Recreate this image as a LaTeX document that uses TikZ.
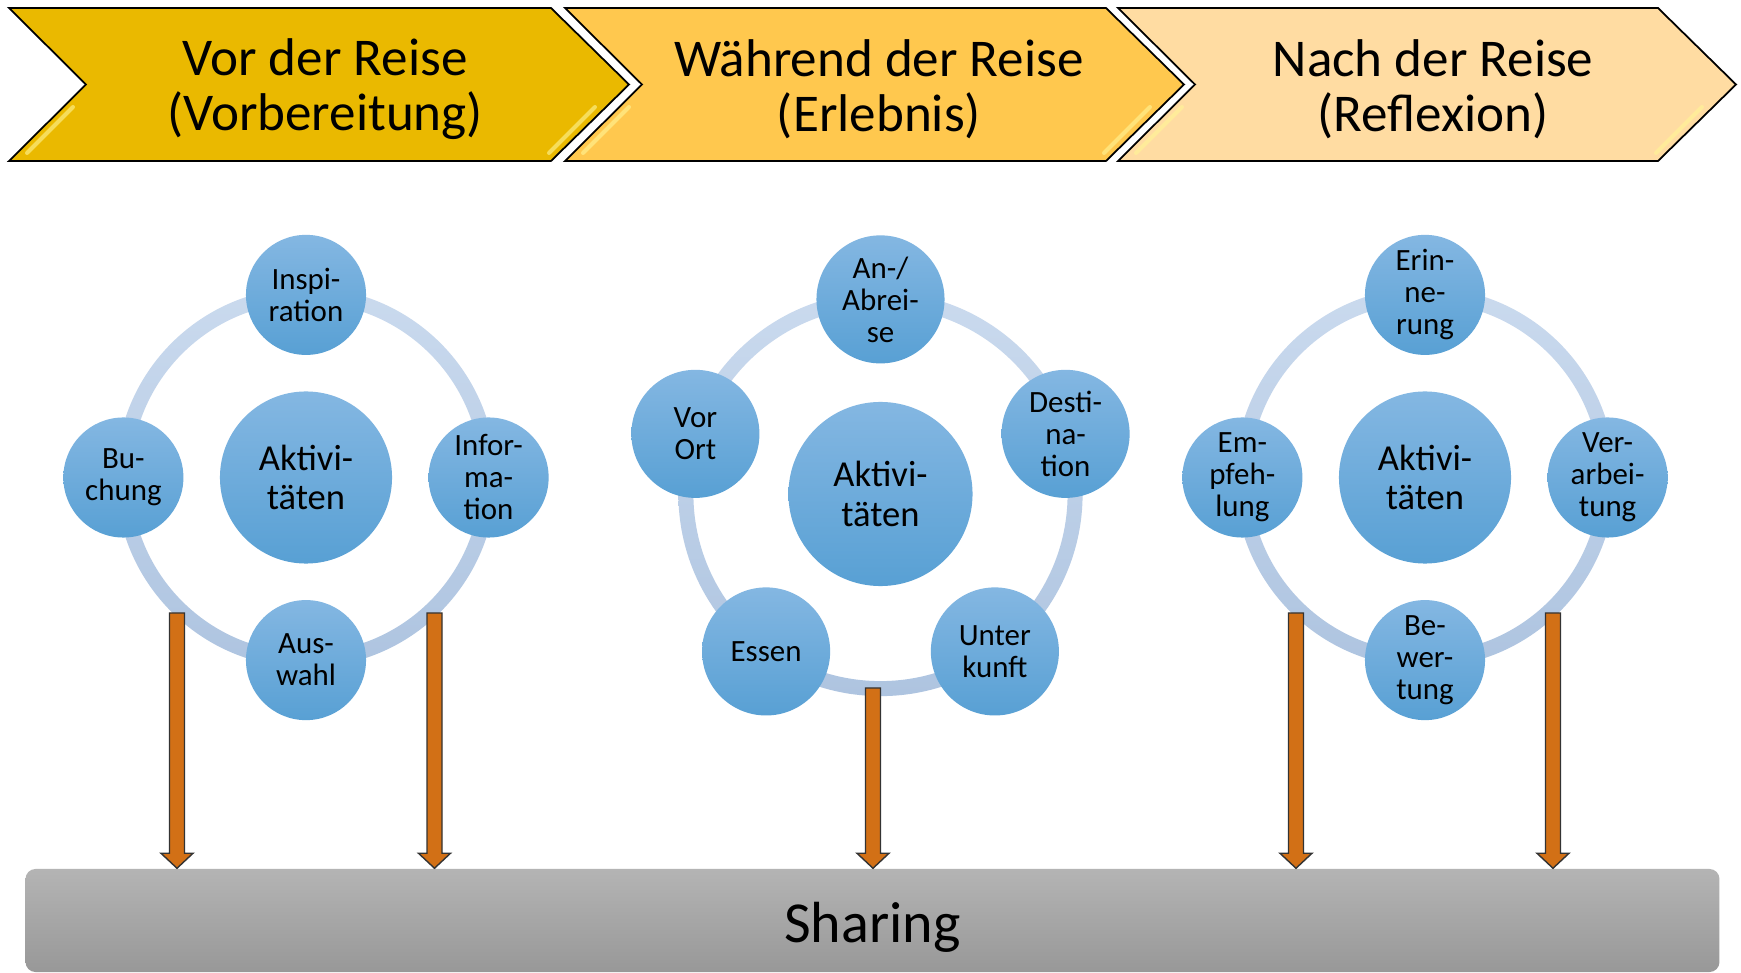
\documentclass[tikz,border=0pt]{standalone}
\usepackage{fontspec}
\setmainfont{Carlito}
\usepackage{tikz}
\usetikzlibrary{calc}

\definecolor{phaseA}{RGB}{234,185,0}
\definecolor{phaseB}{RGB}{255,200,78}
\definecolor{phaseC}{RGB}{255,220,162}
\definecolor{glossy}{RGB}{255,245,150}
\definecolor{bubbleTop}{RGB}{132,183,226}
\definecolor{bubbleBot}{RGB}{88,160,212}
\definecolor{ringTop}{RGB}{202,218,238}
\definecolor{ringBot}{RGB}{174,196,224}
\definecolor{arrowOrange}{RGB}{210,112,22}
\definecolor{shareTop}{RGB}{180,180,180}
\definecolor{shareBot}{RGB}{152,152,152}

\newcommand{\chevron}[3]{%
  \draw[phase, fill=#3] (#1,8) -- (#2,8) -- ++(78,76.5) -- ++(-78,76.5) -- (#1,161) -- ++(77,-76.5) -- cycle;
  \draw[gloss] (#2-2,153) -- ++(46,-46);
  \draw[gloss] (#1+18,153) -- ++(46,-46);}

\begin{document}
\begin{tikzpicture}[x=0.01cm, y=-0.01cm,
    phase/.style={draw=black, line width=0.5pt, line join=miter},
    gloss/.style={draw=glossy, line width=0.04cm, opacity=0.6, line cap=round},
    phasetext/.style={align=center, font=\fontsize{15.1}{15.6}\selectfont},
    bubble/.style={circle, inner sep=0pt, align=center, top color=bubbleTop, bottom color=bubbleBot},
    hub/.style={bubble, minimum size=1.72cm, font=\fontsize{10.4}{11.2}\selectfont},
    sat/.style={bubble, minimum size=1.2cm, font=\fontsize{8.8}{9.1}\selectfont},
    hub2/.style={hub, minimum size=1.84cm},
    sat2/.style={sat, minimum size=1.28cm},
    ring/.style={top color=ringTop, bottom color=ringBot, even odd rule},
    sharebar/.style={rounded corners=0.1cm, top color=shareTop, bottom color=shareBot, minimum width=16.93cm, minimum height=1.03cm, font=\fontsize{16.5}{18}\selectfont},
    sharearrow/.style={draw=black!80, line width=0.4pt, fill=arrowOrange, line join=miter}]
                \useasboundingbox[fill=white] (0,0) rectangle (1741,973);

                \chevron{9}{551}{phaseA}
                \chevron{565}{1106}{phaseB}
                \chevron{1118}{1658}{phaseC}
                \node[phasetext] (vor) at (325,89.5) {Vor der Reise\\(Vorbereitung)};
                \node[phasetext] (waehrend) at (879,89.5) {Während der Reise\\(Erlebnis)};
                \node[phasetext] (nach) at (1433,89.5) {Nach der Reise\\(Reflexion)};

                \coordinate (c1) at (306,477.5);
                \coordinate (c2) at (880.5,494);
                \coordinate (c3) at (1425,477.5);
                \shade[ring] (c1) circle (1.9cm) (c1) circle (1.75cm);
                \shade[ring] (c2) circle (2.02cm) (c2) circle (1.87cm);
                \shade[ring] (c3) circle (1.9cm) (c3) circle (1.75cm);

                \node[hub] (hubA) at (c1) {Aktivi-\\täten};
                \node[sat] (insp) at ($(c1)+(90:1.825cm)$) {Inspi-\\ration};
                \node[sat] (info) at ($(c1)+(0:1.825cm)$) {Infor-\\ma-\\tion};
                \node[sat] (ausw) at ($(c1)+(270:1.825cm)$) {Aus-\\wahl};
                \node[sat] (buch) at ($(c1)+(180:1.825cm)$) {Bu-\\chung};

                \node[hub2] (hubB) at (c2) {Aktivi-\\täten};
                \node[sat2] (anab) at ($(c2)+(90:1.945cm)$) {An-/\\Abrei-\\se};
                \node[sat2] (dest) at ($(c2)+(18:1.945cm)$) {Desti-\\na-\\tion};
                \node[sat2] (unter) at ($(c2)+(-54:1.945cm)$) {Unter\\kunft};
                \node[sat2] (essen) at ($(c2)+(234:1.945cm)$) {Essen};
                \node[sat2] (vorort) at ($(c2)+(162:1.945cm)$) {Vor\\Ort};

                \node[hub] (hubC) at (c3) {Aktivi-\\täten};
                \node[sat] (erin) at ($(c3)+(90:1.825cm)$) {Erin-\\ne-\\rung};
                \node[sat] (verarb) at ($(c3)+(0:1.825cm)$) {Ver-\\arbei-\\tung};
                \node[sat] (bewert) at ($(c3)+(270:1.825cm)$) {Be-\\wer-\\tung};
                \node[sat] (empf) at ($(c3)+(180:1.825cm)$) {Em-\\pfeh-\\lung};

                \node[sharebar] (share) at (872.5,920.5) {\raisebox{-0.215cm}[0pt][0pt]{Sharing}};

                \coordinate (a1) at (177,613);
                \coordinate (a2) at (434.5,613);
                \coordinate (a3) at (873,688);
                \coordinate (a4) at (1296,613);
                \coordinate (a5) at (1553,613);
                \foreach \a in {a1,a2,a3,a4,a5}
                    \draw[sharearrow] ($(\a)+(-7.5,0)$) -- ($(\a|-share.north)+(-7.5,-15)$) -- ++(-8.5,0) -- (\a|-share.north) -- ++(16,-15) -- ++(-8.5,0) -- ($(\a)+(7.5,0)$) -- cycle;
            \end{tikzpicture}
\end{document}
